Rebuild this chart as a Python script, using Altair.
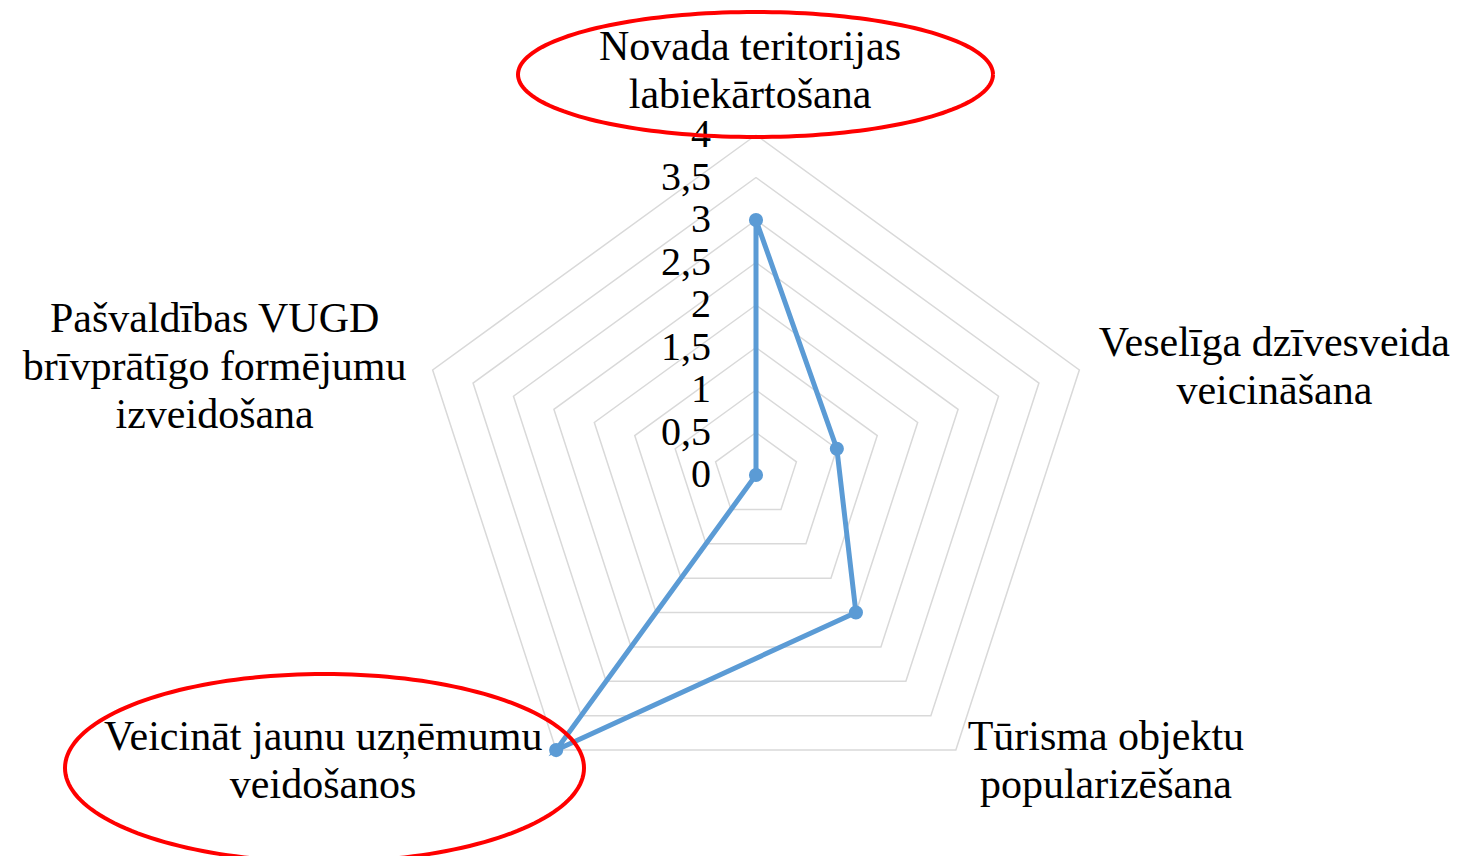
import altair as alt
import pandas as pd

# ---- data ----
categories = [
    "Novada teritorijas\nlabiekārtošana",
    "Veselīga dzīvesveida\nveicināšana",
    "Tūrisma objektu\npopularizēšana",
    "Veicināt jaunu uzņēmumu\nveidošanos",
    "Pašvaldības VUGD\nbrīvprātīgo formējumu\nizveidošana",
]
values = [3, 1, 2, 4, 0]
levels = [0.5, 1, 1.5, 2, 2.5, 3, 3.5, 4]
tick_values = [0, 0.5, 1, 1.5, 2, 2.5, 3, 3.5, 4]
tick_labels = ["0", "0,5", "1", "1,5", "2", "2,5", "3", "3,5", "4"]

n = len(categories)
rmax = max(levels)

series_df = pd.DataFrame({
    "k": list(range(n + 1)),
    "value": [values[i % n] for i in range(n + 1)],
})
points_df = pd.DataFrame({"k": list(range(n)), "value": values, "category": categories})
ring_df = pd.DataFrame([{"level": lv, "k": k} for lv in levels for k in range(n + 1)])
label_df = pd.DataFrame({"k": list(range(n)), "category": categories, "r": [rmax] * n})
tick_df = pd.DataFrame({"value": tick_values, "label": tick_labels})

# ---- geometry ----
W, H = 1447, 848
unit = 85.0
cx, cy = 748.0, 467.0
xdom = [-cx / unit, (W - cx) / unit]
ydom = [(cy - H) / unit, cy / unit]

ANG = "PI/2 - 2*PI*datum.k/" + str(n)
FONT = "Liberation Serif"


def X():
    return alt.X("x:Q", scale=alt.Scale(domain=xdom, nice=False, zero=False), axis=None)


def Y():
    return alt.Y("y:Q", scale=alt.Scale(domain=ydom, nice=False, zero=False), axis=None)


rings = alt.Chart(ring_df).transform_calculate(
    ang=ANG, x="datum.level*cos(datum.ang)", y="datum.level*sin(datum.ang)"
).mark_line(color="#d9d9d9", strokeWidth=1.5).encode(
    x=X(), y=Y(), detail="level:N", order="k:Q"
)

line = alt.Chart(series_df).transform_calculate(
    ang=ANG, x="datum.value*cos(datum.ang)", y="datum.value*sin(datum.ang)"
).mark_line(color="#5B9BD5", strokeWidth=5).encode(x=X(), y=Y(), order="k:Q")

pts = alt.Chart(points_df).transform_calculate(
    ang=ANG, x="datum.value*cos(datum.ang)", y="datum.value*sin(datum.ang)"
).mark_circle(color="#5B9BD5", size=200, opacity=1).encode(x=X(), y=Y())

ticks = alt.Chart(tick_df).transform_calculate(
    x="0", y="datum.value"
).mark_text(
    align="right", baseline="middle", dx=-45, fontSize=40, font=FONT, color="#000000"
).encode(x=X(), y=Y(), text="label:N")

offsets = [(-6, -75), (195, -14), (150, 0), (-233, 0), (-218, -38)]
label_layers = []
for i, (ddx, ddy) in enumerate(offsets):
    label_layers.append(
        alt.Chart(label_df).transform_filter(f"datum.k == {i}").transform_calculate(
            ang=ANG, x="datum.r*cos(datum.ang)", y="datum.r*sin(datum.ang)"
        ).mark_text(
            align="center", baseline="alphabetic", dx=ddx, dy=ddy, fontSize=42,
            font=FONT, color="#000000", lineBreak="\n", lineHeight=48
        ).encode(x=X(), y=Y(), text="category:N")
    )


def ellipse(ex, ey, rx, ry):
    return alt.Chart(alt.sequence(0, 361, 2, as_="t")).transform_calculate(
        x=f"{ex} + {rx}*cos(datum.t*PI/180)",
        y=f"{ey} + {ry}*sin(datum.t*PI/180)",
    ).mark_line(color="#FF0000", strokeWidth=4).encode(x=X(), y=Y(), order="t:Q")


e1 = ellipse((755.5 - 756) / unit, (475 - 74.5) / unit, 237.5 / unit, 62.5 / unit)
e2 = ellipse((324.5 - 756) / unit, (475 - 768) / unit, 259.5 / unit, 94 / unit)

chart = alt.layer(rings, line, pts, ticks, *label_layers, e1, e2).properties(
    width=W, height=H, autosize=alt.AutoSizeParams(type="none"), padding=0,
    background="white"
).configure_view(stroke=None)

chart.save("out.html", embed_options={"renderer": "svg", "actions": False})
